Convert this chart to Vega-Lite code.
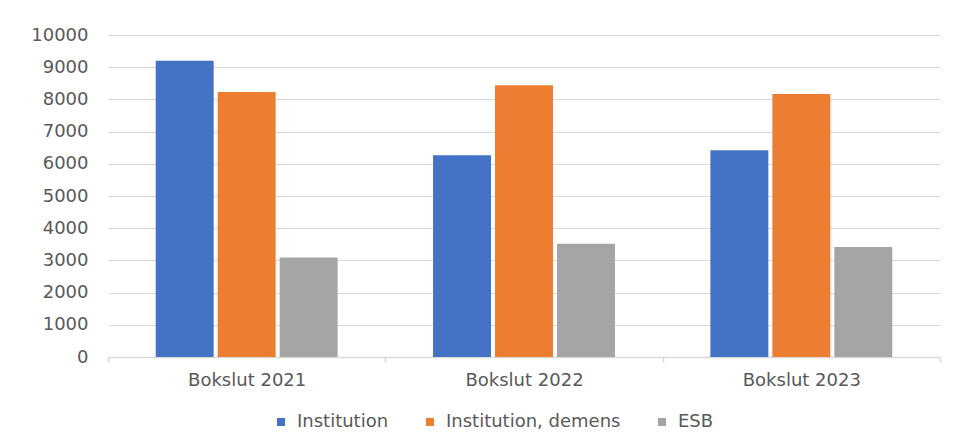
{
  "$schema": "https://vega.github.io/schema/vega-lite/v6.json",
  "width": 832,
  "height": 322,
  "autosize": {"type": "none"},
  "padding": {"left": 108, "top": 35, "right": 14, "bottom": 87},
  "background": "white",
  "data": {
    "values": [
      {"period": "Bokslut 2021", "serie": "Institution", "value": 9200},
      {"period": "Bokslut 2021", "serie": "Institution, demens", "value": 8230},
      {"period": "Bokslut 2021", "serie": "ESB", "value": 3090},
      {"period": "Bokslut 2022", "serie": "Institution", "value": 6265},
      {"period": "Bokslut 2022", "serie": "Institution, demens", "value": 8440},
      {"period": "Bokslut 2022", "serie": "ESB", "value": 3520},
      {"period": "Bokslut 2023", "serie": "Institution", "value": 6420},
      {"period": "Bokslut 2023", "serie": "Institution, demens", "value": 8170},
      {"period": "Bokslut 2023", "serie": "ESB", "value": 3415}
    ]
  },
  "mark": {"type": "bar"},
  "encoding": {
    "x": {
      "field": "period",
      "type": "nominal",
      "sort": null,
      "scale": {"paddingInner": 0, "paddingOuter": 0},
      "axis": {
        "title": null,
        "labelAngle": 0,
        "labelFont": "DejaVu Sans",
        "labelFontSize": 18,
        "labelColor": "#595959",
        "labelPadding": 9,
        "domainColor": "#d9d9d9",
        "domainWidth": 1.5,
        "tickColor": "#d9d9d9",
        "tickWidth": 1.5,
        "tickSize": 5,
        "tickBand": "extent",
        "grid": false
      }
    },
    "xOffset": {
      "field": "serie",
      "type": "nominal",
      "sort": ["Institution", "Institution, demens", "ESB"],
      "scale": {"paddingInner": 0.065, "paddingOuter": 0.77}
    },
    "y": {
      "field": "value",
      "type": "quantitative",
      "scale": {"domain": [0, 10000], "nice": false},
      "axis": {
        "title": null,
        "values": [0, 1000, 2000, 3000, 4000, 5000, 6000, 7000, 8000, 9000, 10000],
        "format": "d",
        "labelFont": "DejaVu Sans",
        "labelFontSize": 18,
        "labelColor": "#595959",
        "labelPadding": 20,
        "ticks": false,
        "domain": false,
        "gridColor": "#d9d9d9",
        "gridWidth": 1.2
      }
    },
    "color": {
      "field": "serie",
      "type": "nominal",
      "sort": ["Institution", "Institution, demens", "ESB"],
      "scale": {
        "domain": ["Institution", "Institution, demens", "ESB"],
        "range": ["#4472C4", "#ED7D31", "#A5A5A5"]
      },
      "legend": {
        "title": null,
        "orient": "none",
        "legendX": 164,
        "legendY": 378,
        "direction": "horizontal",
        "symbolType": "square",
        "symbolSize": 64,
        "labelFont": "DejaVu Sans",
        "labelFontSize": 18,
        "labelColor": "#595959",
        "labelOffset": 7,
        "labelLimit": 400,
        "columnPadding": 32
      }
    }
  },
  "config": {
    "view": {"stroke": null}
  }
}
